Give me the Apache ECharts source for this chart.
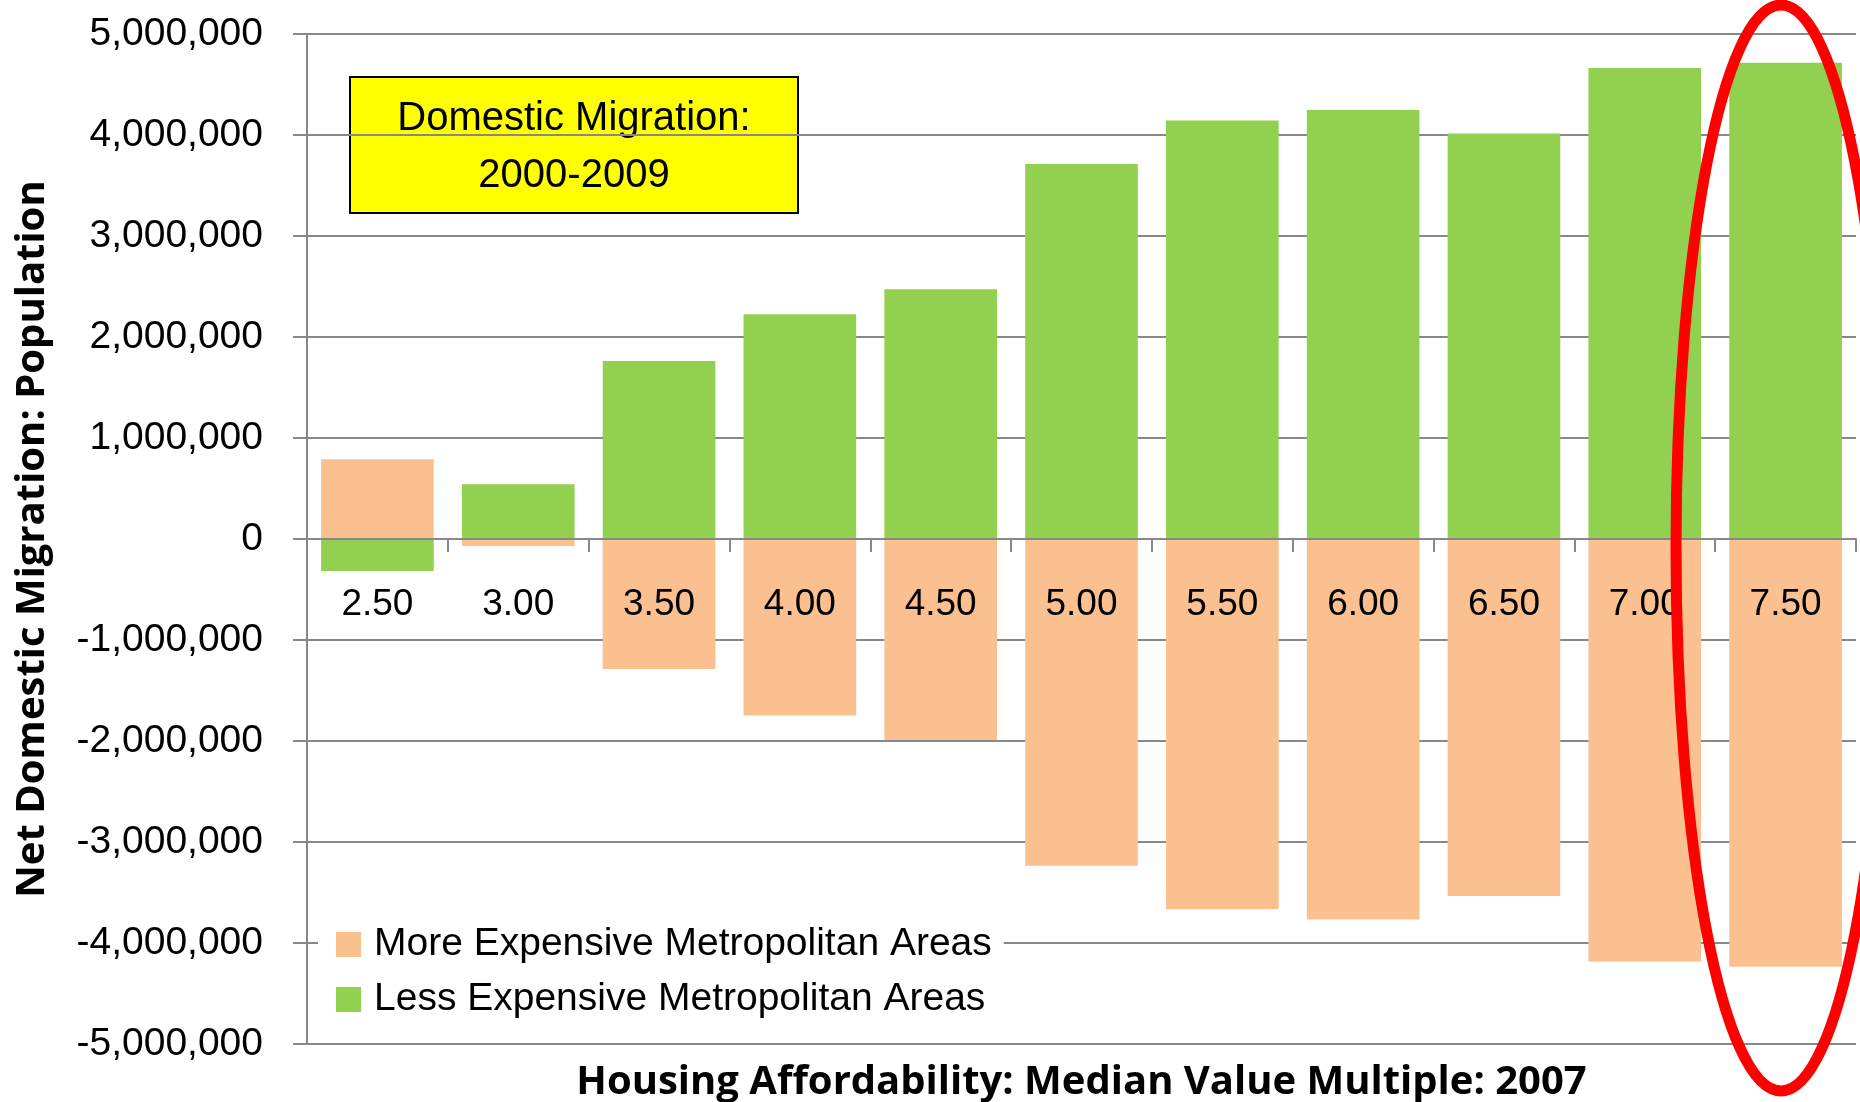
<!DOCTYPE html>
<html>
<head>
<meta charset="utf-8">
<script src="https://cdn.jsdelivr.net/npm/echarts@6/dist/echarts.min.js"></script>
<style>
  html, body { margin: 0; padding: 0; background: #fff; }
  #chart { width: 1860px; height: 1102px; }
</style>
</head>
<body>
<div id="chart"></div>
<script>
// ---- data ----
const categories = ['2.50', '3.00', '3.50', '4.00', '4.50', '5.00', '5.50', '6.00', '6.50', '7.00', '7.50'];
const moreExpensive = [789000, -69000, -1287000, -1748000, -1990000, -3236000, -3665000, -3768000, -3534000, -4184000, -4236000];
const lessExpensive = [-317000, 542000, 1762000, 2225000, 2472000, 3713000, 4143000, 4248000, 4014000, 4664000, 4715000];
const seriesNames = ['More Expensive Metropolitan Areas', 'Less Expensive Metropolitan Areas'];
const yAxisTitle = 'Net Domestic Migration: Population';
const xAxisTitle = 'Housing Affordability: Median Value Multiple: 2007';
const boxText = 'Domestic Migration:\n2000-2009';

const narrow = "'Liberation Sans', Arial, sans-serif";
const boldFont = "'Open Sans', 'Noto Sans', sans-serif";
const gridColor = '#888888';

const gridTop = 34, gridBottom = 58, chartH = 1102;
const yMin = -5000000, yMax = 5000000;
// move the category axis up to the zero line (offset from the grid bottom)
const plotH = chartH - gridTop - gridBottom;
const zeroOffset = -plotH * (0 - yMin) / (yMax - yMin);

const chart = echarts.init(document.getElementById('chart'), null, { renderer: 'canvas' });
chart.setOption({
  backgroundColor: '#ffffff',
  animation: false,
  grid: { left: 307, right: 4, top: gridTop, bottom: gridBottom, outerBoundsMode: 'none' },
  legend: {
    orient: 'vertical', left: 318, top: 913,
    data: seriesNames,
    icon: 'rect', itemWidth: 25, itemHeight: 25, itemGap: 8,
    backgroundColor: '#ffffff',
    padding: [8, 12, 8, 18],
    selectedMode: false,
    textStyle: { fontSize: 39, lineHeight: 47, fontFamily: narrow, color: '#000', padding: [0, 0, 0, 8] }
  },
  xAxis: {
    type: 'category', data: categories, z: 5,
    offset: zeroOffset,
    axisLine: { onZero: false, lineStyle: { color: gridColor, width: 2 } },
    axisTick: { show: true, interval: 0, length: 13, lineStyle: { color: gridColor, width: 2 } },
    axisLabel: { interval: 0, fontSize: 37, fontFamily: narrow, color: '#000', margin: 47 },
    splitLine: { show: false },
    name: xAxisTitle, nameLocation: 'middle', nameGap: 524, nameMoveOverlap: false,
    nameTextStyle: { fontFamily: boldFont, fontWeight: 'bold', fontSize: 40, color: '#000' }
  },
  yAxis: {
    type: 'value', min: yMin, max: yMax, interval: 1000000,
    axisLine: { show: true, onZero: false, lineStyle: { color: gridColor, width: 2 } },
    axisTick: { show: true, length: 14, lineStyle: { color: gridColor, width: 2 } },
    axisLabel: { fontSize: 39, fontFamily: narrow, color: '#000', margin: 44,
      formatter: v => Number(v).toLocaleString('en-US') },
    splitLine: { show: true, lineStyle: { color: gridColor, width: 2 } },
    name: yAxisTitle, nameLocation: 'middle', nameGap: 254, nameMoveOverlap: false,
    nameTextStyle: { fontFamily: boldFont, fontWeight: 'bold', fontSize: 40, color: '#000' }
  },
  series: [
    { name: seriesNames[0], type: 'bar', data: moreExpensive, barGap: '-100%', barCategoryGap: '20%',
      itemStyle: { color: '#FAC090' } },
    { name: seriesNames[1], type: 'bar', data: lessExpensive, barGap: '-100%', barCategoryGap: '20%',
      itemStyle: { color: '#92D050' } }
  ],
  graphic: [
    { type: 'group', left: 349, top: 76, z: 50, children: [
      { type: 'rect', shape: { x: 0, y: 0, width: 448, height: 136 },
        style: { fill: '#FFFF00', stroke: '#000', lineWidth: 2 } },
      { type: 'text', x: 224, y: 70,
        style: { text: boxText, fill: '#000', font: "40px " + narrow,
          align: 'center', verticalAlign: 'middle', lineHeight: 57 } }
    ]},
    { type: 'ellipse', z: 100, shape: { cx: 1781, cy: 548, rx: 105, ry: 543 },
      style: { fill: 'none', stroke: '#FF0000', lineWidth: 11 } }
  ]
});
</script>
</body>
</html>
